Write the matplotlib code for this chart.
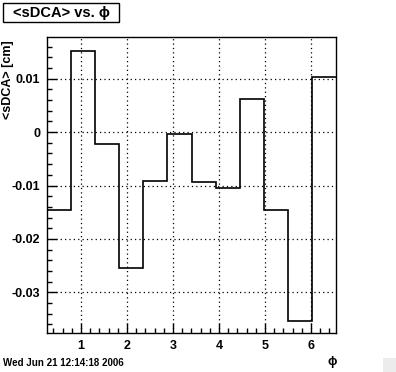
import numpy as np
import matplotlib
matplotlib.use("Agg")
import matplotlib.pyplot as plt
from matplotlib.ticker import MultipleLocator, FuncFormatter
from matplotlib.patches import Rectangle

plt.rcParams['font.family'] = ['Liberation Sans', 'DejaVu Sans']
plt.rcParams['axes.unicode_minus'] = False
plt.rcParams['hatch.color'] = '#a0a0a0'

# Data
phi_min = np.pi / 12
bin_width = np.pi / 6
n_bins = 12
mean_sdca = [-0.0146, 0.0152, -0.00225, -0.0254, -0.0092, -0.0004,
             -0.0094, -0.0105, 0.0062, -0.0146, -0.0353, 0.0103]
y_ticks = [-0.03, -0.02, -0.01, 0.0, 0.01]
x_ticks = [1, 2, 3, 4, 5, 6]
title_text = "<sDCA> vs. \u03d5"
ylabel_text = "<sDCA> [cm]"
xlabel_text = "\u03d5"
date_text = "Wed Jun 21 12:14:18 2006"

edges = phi_min + bin_width * np.arange(n_bins + 1)

W, H = 396, 372
fig = plt.figure(figsize=(W / 100, H / 100), dpi=100)
fig.patch.set_facecolor('white')
L, R, T, B = 47, 336, 37, 333
ax = fig.add_axes([L / W, 1 - B / H, (R - L) / W, (B - T) / H])

ax.stairs(mean_sdca, edges, baseline=None, color='black', linewidth=1.2, zorder=3)

ax.set_xlim(edges[0], edges[-1])
ax.set_ylim(-0.0376, 0.0178)

ax.set_xticks(x_ticks)
ax.set_yticks(y_ticks)
ax.xaxis.set_minor_locator(MultipleLocator(0.2))
ax.yaxis.set_minor_locator(MultipleLocator(0.002))
ax.yaxis.set_major_formatter(FuncFormatter(lambda v, p: '%g' % round(v, 4)))
ax.xaxis.set_major_formatter(FuncFormatter(lambda v, p: '%g' % v))

ax.tick_params(which='both', direction='in', top=False, right=False,
               colors='black', width=1)
ax.tick_params(which='major', length=7, labelsize=9, pad=5)
ax.tick_params(which='minor', length=3.5)
for lab in ax.get_xticklabels() + ax.get_yticklabels():
    lab.set_fontweight('bold')

ax.grid(True, which='major', color='black', linestyle=(0, (1, 2.5)), linewidth=0.9)
ax.set_axisbelow(True)
for s in ax.spines.values():
    s.set_linewidth(1)
    s.set_color('black')

ax.set_ylabel(ylabel_text, fontsize=9, fontweight='bold', loc='top')
ax.yaxis.set_label_coords((8 - L) / (R - L), 1 - 3 / (B - T))
ax.yaxis.label.set_verticalalignment('center')

ax.set_xlabel(xlabel_text, fontsize=9, fontweight='bold')
ax.xaxis.set_label_coords((332 - L) / (R - L), -(362 - B) / (B - T))
ax.xaxis.label.set_horizontalalignment('center')
ax.xaxis.label.set_verticalalignment('center')

# Title box
fig.patches.append(Rectangle((3 / W, 1 - 22 / H), 116 / W, 19 / H,
                             transform=fig.transFigure, facecolor='white',
                             edgecolor='black', linewidth=1))
fig.text(61 / W, 1 - 12.5 / H, title_text, ha='center', va='center',
         fontsize=10.5, fontweight='bold')

# Date stamp
fig.text(3 / W, 1 - 363 / H, date_text, ha='left', va='center',
         fontsize=7, fontweight='bold')

# Resize grip
fig.patches.append(Rectangle((383 / W, 0), 13 / W, 14 / H,
                             transform=fig.transFigure, facecolor='#ececec',
                             edgecolor='none', hatch='///'))

fig.savefig('out.png', dpi=100)
